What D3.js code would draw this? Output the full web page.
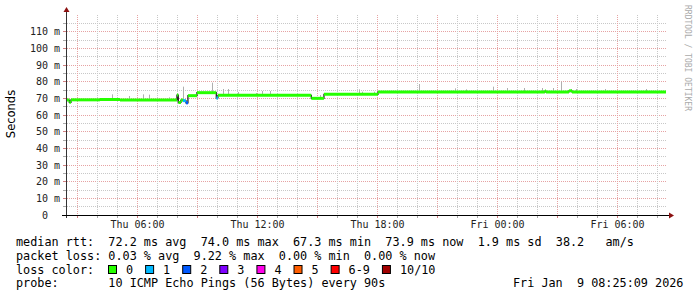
<!DOCTYPE html>
<html>
<head>
<meta charset="utf-8">
<script src="https://cdn.jsdelivr.net/npm/d3@7"></script>
<style>
  body { margin: 0; background: #fff; }
  text { white-space: pre; }
</style>
</head>
<body>
<svg id="chart" width="697" height="297"></svg>
<script>
// median rtt steps: time, value (ms), loss count
const medianTimes = ["2026-01-08 02:25", "2026-01-08 02:35", "2026-01-08 02:40", "2026-01-08 04:07", "2026-01-08 05:07",
  "2026-01-08 07:58", "2026-01-08 08:02", "2026-01-08 08:10", "2026-01-08 08:16", "2026-01-08 08:25",
  "2026-01-08 08:31", "2026-01-08 08:58", "2026-01-08 09:56", "2026-01-08 10:01", "2026-01-08 14:41",
  "2026-01-08 15:19", "2026-01-08 18:01", "2026-01-09 02:22", "2026-01-09 02:25", "2026-01-09 03:34",
  "2026-01-09 03:43"];
const medianValues = [69.0, 67.6, 69.1, 69.3, 69.0, 72.0, 67.5, 69.0, 68.6, 67.3,
  71.6, 73.4, 70.2, 71.8, 70.0, 72.4, 73.8, 74.4, 73.8, 74.5, 73.8];
const medianLoss = [0, 0, 0, 0, 0, 0, 0, 0, 1, 2, 0, 0, 1, 0, 0, 0, 0, 0, 0, 0, 0];

// smoke: highest ping seen at a few moments
const smokeTimes = ["2026-01-08 04:44", "2026-01-08 05:37", "2026-01-08 06:17", "2026-01-08 06:35", "2026-01-08 07:37",
  "2026-01-08 08:18", "2026-01-08 09:44", "2026-01-08 10:19", "2026-01-08 10:33", "2026-01-08 11:02",
  "2026-01-08 11:57", "2026-01-08 12:14", "2026-01-08 12:39", "2026-01-08 15:09", "2026-01-08 17:05",
  "2026-01-08 17:14", "2026-01-08 17:50", "2026-01-08 20:07", "2026-01-08 21:53", "2026-01-08 22:27",
  "2026-01-08 23:47", "2026-01-09 00:29", "2026-01-09 01:20", "2026-01-09 02:14", "2026-01-09 02:47",
  "2026-01-09 03:11", "2026-01-09 03:41", "2026-01-09 03:57", "2026-01-09 05:23", "2026-01-09 07:27"];
const smokeMax = [72.4, 71.4, 72.4, 72.2, 70.6, 77.0, 79.4, 75.6, 75.6, 73.8,
  73.2, 74.4, 74.4, 72.0, 75.4, 74.0, 74.0, 78.6, 76.0, 75.4,
  77.0, 76.2, 76.2, 76.2, 76.2, 80.0, 75.6, 75.6, 75.6, 75.6];

const lossLabels = ["0", "1", "2", "3", "4", "5", "6-9", "10/10"];
const lossColors = ["#26ff00", "#00b8ff", "#0059ff", "#7e00ff", "#ff00ea", "#ff5e00", "#ff0000", "#a10000"];

const legendLines = [
  "median rtt:  72.2 ms avg  74.0 ms max  67.3 ms min  73.9 ms now  1.9 ms sd  38.2   am/s",
  "packet loss: 0.03 % avg  9.22 % max  0.00 % min  0.00 % now"
];
const probeText = "probe:       10 ICMP Echo Pings (56 Bytes) every 90s";
const stampText = "Fri Jan  9 08:25:09 2026";

const startTime = "2026-01-08 02:25:09";
const endTime = "2026-01-09 08:25:09";

const parse = d3.utcParse("%Y-%m-%d %H:%M");
const parseS = d3.utcParse("%Y-%m-%d %H:%M:%S");
const mono = "DejaVu Sans Mono";

const svg = d3.select("#chart");

const x = d3.scaleUtc().domain([parseS(startTime), parseS(endTime)]).range([66, 666]);
const y = d3.scaleLinear().domain([0, 120]).range([215, 15]);

const px = v => Math.floor(v) + 0.5;

// grid
const grid = svg.append("g");
d3.range(5, 120, 5).forEach(v => {
    const major = v % 10 === 0;
    grid.append("line")
        .attr("x1", 67).attr("x2", 667)
        .attr("y1", px(y(v))).attr("y2", px(y(v)))
        .attr("stroke", major ? "#e6a3a3" : "#c8c8c8")
        .attr("stroke-dasharray", "1,1");
    grid.append("line")
        .attr("x1", 63).attr("x2", 66)
        .attr("y1", px(y(v))).attr("y2", px(y(v)))
        .attr("stroke", major ? "#d08080" : "#aaa");
});
x.ticks(d3.utcHour.every(1)).forEach(t => {
    const major = t.getUTCHours() % 3 === 0;
    grid.append("line")
        .attr("x1", px(x(t))).attr("x2", px(x(t)))
        .attr("y1", 15).attr("y2", 215)
        .attr("stroke", major ? "#e6a3a3" : "#c8c8c8")
        .attr("stroke-dasharray", "1,1");
    grid.append("line")
        .attr("x1", px(x(t))).attr("x2", px(x(t)))
        .attr("y1", 215).attr("y2", 218)
        .attr("stroke", major ? "#d08080" : "#aaa");
});

// smoke spikes
const medianDates = medianTimes.map(parse);
const bis = d3.bisector(d => d).right;
const medianAt = t => medianValues[Math.max(0, bis(medianDates, t) - 1)];
svg.append("g").selectAll("line")
    .data(smokeTimes.map((t, i) => ({ t: parse(t), v: smokeMax[i] })))
    .join("line")
    .attr("x1", d => px(x(d.t))).attr("x2", d => px(x(d.t)))
    .attr("y1", d => y(d.v)).attr("y2", d => y(medianAt(d.t)))
    .attr("stroke", "#b0b0b0");

// median: thin dark step line + coloured segments
const steps = medianDates.map((t, i) => ({ t, v: medianValues[i], loss: medianLoss[i] }));
steps.push({ t: parseS(endTime), v: medianValues[medianValues.length - 1], loss: 0 });
svg.append("path")
    .attr("d", d3.line().x(d => x(d.t)).y(d => y(d.v)).curve(d3.curveStepAfter)(steps))
    .attr("fill", "none").attr("stroke", "#111").attr("stroke-width", 1.2);
svg.append("g").selectAll("line")
    .data(steps.slice(0, -1))
    .join("line")
    .attr("x1", (d, i) => x(d.t)).attr("x2", (d, i) => x(steps[i + 1].t))
    .attr("y1", d => y(d.v)).attr("y2", d => y(d.v))
    .attr("stroke", d => lossColors[d.loss])
    .attr("stroke-width", 3);

// axes
svg.append("line").attr("x1", 66.5).attr("x2", 66.5).attr("y1", 218).attr("y2", 11)
    .attr("stroke", "#333");
svg.append("line").attr("x1", 62).attr("x2", 670).attr("y1", 215.5).attr("y2", 215.5)
    .attr("stroke", "#000");
svg.append("path").attr("d", "M63.5,12 L66.5,7 L69.5,12 Z").attr("fill", "#8b1010");
svg.append("path").attr("d", "M669,212.5 L674,215.5 L669,218.5 Z").attr("fill", "#8b1010");

// y labels
svg.append("g").selectAll("text")
    .data(d3.range(0, 120, 10))
    .join("text")
    .attr("x", 60).attr("y", d => y(d) + 3.5)
    .attr("text-anchor", "end")
    .attr("font-family", mono).attr("font-size", 10).attr("fill", "#222")
    .text(d => d === 0 ? "0  " : d + " m");

// x labels
svg.append("g").selectAll("text")
    .data(x.ticks(d3.utcHour.every(6)))
    .join("text")
    .attr("x", d => px(x(d))).attr("y", 228)
    .attr("text-anchor", "middle")
    .attr("font-family", mono).attr("font-size", 10).attr("fill", "#222")
    .text(d3.utcFormat("%a %H:%M"));

svg.append("text")
    .attr("transform", "translate(15,114) rotate(-90)")
    .attr("text-anchor", "middle")
    .attr("font-family", "DejaVu Sans").attr("font-size", 11.5)
    .text("Seconds");

svg.append("text")
    .attr("transform", "translate(685,5) rotate(90)")
    .attr("font-family", mono).attr("font-size", 8).attr("fill", "#aaa")
    .text("RRDTOOL / TOBI OETIKER");

// legend
const lfs = 11.8, cw = lfs * 0.602;
legendLines.forEach((s, i) => {
    svg.append("text").attr("x", 16).attr("y", 245.5 + i * 14)
        .attr("font-family", mono).attr("font-size", lfs).text(s);
});
svg.append("text").attr("x", 16).attr("y", 273.5)
    .attr("font-family", mono).attr("font-size", lfs).text("loss color:");
let lx = 108;
lossLabels.forEach((lab, i) => {
    svg.append("rect").attr("x", lx + 0.5).attr("y", 265.5).attr("width", 8).attr("height", 8)
        .attr("fill", lossColors[i]).attr("stroke", "#000");
    svg.append("text").attr("x", lx + 18).attr("y", 273.5)
        .attr("font-family", mono).attr("font-size", lfs).text(lab);
    lx += 18 + lab.length * cw + 12;
});
svg.append("text").attr("x", 16).attr("y", 287)
    .attr("font-family", mono).attr("font-size", lfs).text(probeText);
svg.append("text").attr("x", 513).attr("y", 287)
    .attr("font-family", mono).attr("font-size", lfs).text(stampText);
</script>
</body>
</html>
